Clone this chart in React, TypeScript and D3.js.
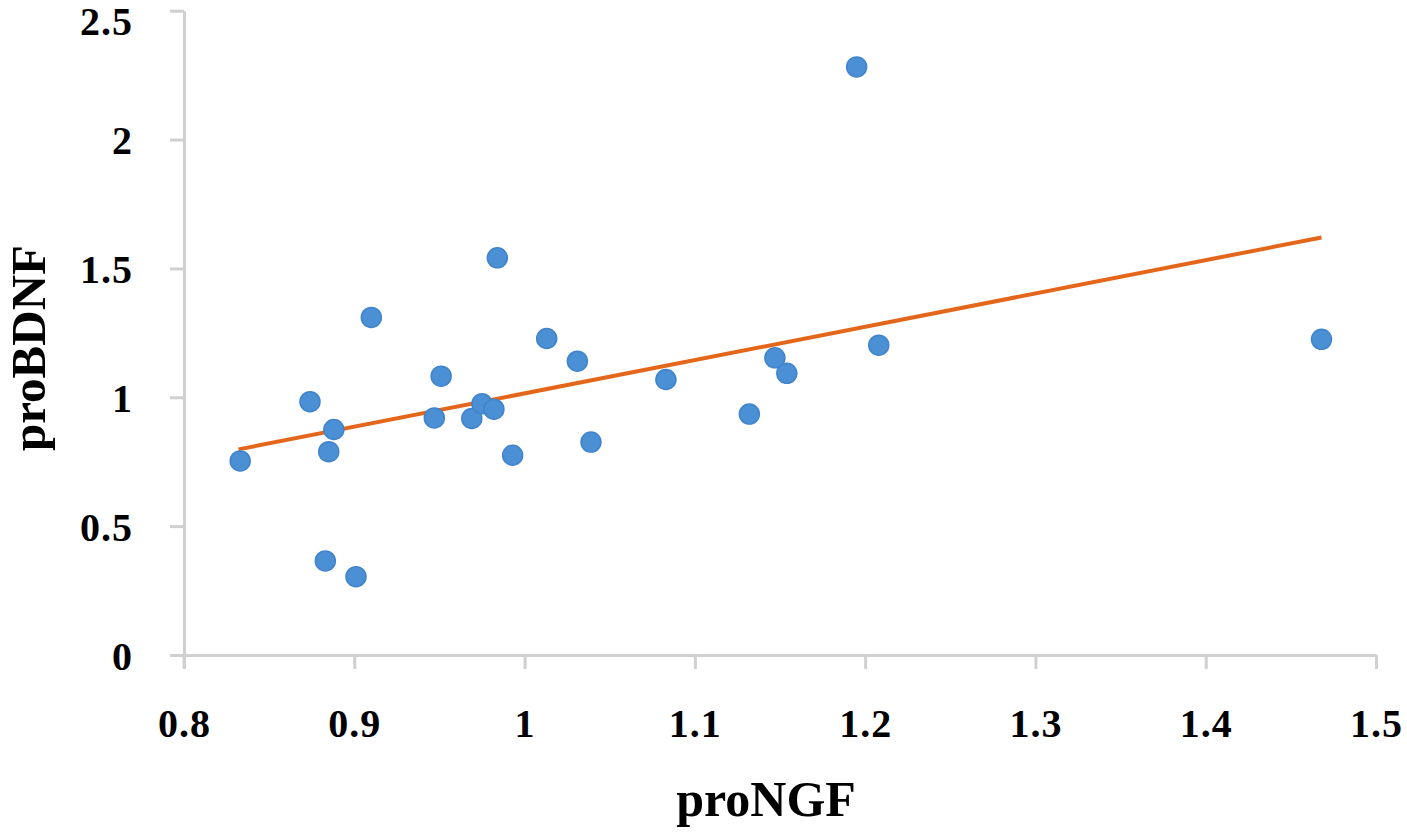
import React, { useEffect, useRef } from "react";
import * as d3 from "d3";

const proNGF = [0.833, 0.874, 0.885, 0.888, 0.883, 0.901, 0.910, 0.947, 0.951, 0.969, 0.975, 0.982, 0.984, 0.993, 1.013, 1.031, 1.039, 1.083, 1.132, 1.147, 1.154, 1.195, 1.208, 1.468];
const proBDNF = [0.753, 0.983, 0.789, 0.875, 0.365, 0.304, 1.310, 0.920, 1.082, 0.918, 0.975, 0.954, 1.541, 0.775, 1.228, 1.140, 0.826, 1.069, 0.935, 1.153, 1.093, 2.282, 1.202, 1.225];
const trendX = [0.832, 1.468];
const trendY = [0.798, 1.62];
const xTicks = [0.8, 0.9, 1.0, 1.1, 1.2, 1.3, 1.4, 1.5];
const yTicks = [0, 0.5, 1, 1.5, 2, 2.5];
const xTitle = "proNGF";
const yTitle = "proBDNF";

const W = 1407;
const H = 833;
const FONT = "'Liberation Serif', 'Times New Roman', serif";

export default function App() {
  const ref = useRef<SVGSVGElement>(null);

  useEffect(() => {
    const svg = d3.select(ref.current);
    svg.selectAll("*").remove();

    const x = d3.scaleLinear().domain([0.8, 1.5]).range([184, 1376]);
    const y = d3.scaleLinear().domain([0, 2.5]).range([655, 10.7]);
    const axisColor = "#d0d0d0";

    const fmt = (d: d3.NumberValue) => d3.format("")(+(+d).toFixed(1));

    const gx = svg
      .append("g")
      .attr("transform", `translate(0,${y(0)})`)
      .call(d3.axisBottom(x).tickValues(xTicks).tickSize(14).tickSizeOuter(0).tickPadding(41).tickFormat(fmt));
    gx.select(".domain").attr("stroke", axisColor).attr("stroke-width", 3);
    gx.selectAll(".tick line").attr("stroke", axisColor).attr("stroke-width", 3);
    gx.selectAll(".tick text")
      .attr("fill", "#000")
      .attr("font-family", FONT)
      .attr("font-weight", "bold")
      .attr("font-size", 40)
      .attr("letter-spacing", 1)
      .attr("dy", "0.68em");

    const gy = svg
      .append("g")
      .attr("transform", `translate(${x(0.8)},0)`)
      .call(d3.axisLeft(y).tickValues(yTicks).tickSize(14).tickSizeOuter(0).tickPadding(37).tickFormat(fmt));
    gy.select(".domain").attr("stroke", axisColor).attr("stroke-width", 3);
    gy.selectAll(".tick line").attr("stroke", axisColor).attr("stroke-width", 3);
    gy.selectAll(".tick text")
      .attr("fill", "#000")
      .attr("font-family", FONT)
      .attr("font-weight", "bold")
      .attr("font-size", 40)
      .attr("letter-spacing", 1)
      .attr("dy", (d: any) => (d === 2.5 ? "0.6em" : "0.35em"));

    // y-axis continues below the x-axis, as in the reference
    svg
      .append("line")
      .attr("x1", x(0.8))
      .attr("x2", x(0.8))
      .attr("y1", y(0))
      .attr("y2", y(0) + 14)
      .attr("stroke", axisColor)
      .attr("stroke-width", 3);

    // trend line
    const line = d3
      .line<number>()
      .x((_, i) => x(trendX[i]))
      .y((d) => y(d));
    svg
      .append("path")
      .attr("d", line(trendY))
      .attr("fill", "none")
      .attr("stroke", "#e4661a")
      .attr("stroke-width", 4);

    // points
    svg
      .append("g")
      .selectAll("circle")
      .data(proNGF)
      .join("circle")
      .attr("cx", (d) => x(d))
      .attr("cy", (_, i) => y(proBDNF[i]))
      .attr("r", 10)
      .attr("fill", "#4b8fd5")
      .attr("stroke", "#3f84cc")
      .attr("stroke-width", 1.5);

    // titles
    svg
      .append("text")
      .attr("x", 766)
      .attr("y", 816)
      .attr("text-anchor", "middle")
      .attr("font-family", FONT)
      .attr("font-weight", "bold")
      .attr("font-size", 50)
      .attr("fill", "#000")
      .text(xTitle);

    svg
      .append("text")
      .attr("transform", `translate(45,348) rotate(-90)`)
      .attr("text-anchor", "middle")
      .attr("font-family", FONT)
      .attr("font-weight", "bold")
      .attr("font-size", 49)
      .attr("fill", "#000")
      .text(yTitle);
  }, []);

  return (
    <svg
      ref={ref}
      width={W}
      height={H}
      style={{ position: "absolute", left: 0, top: 0, background: "#fff" }}
    />
  );
}
